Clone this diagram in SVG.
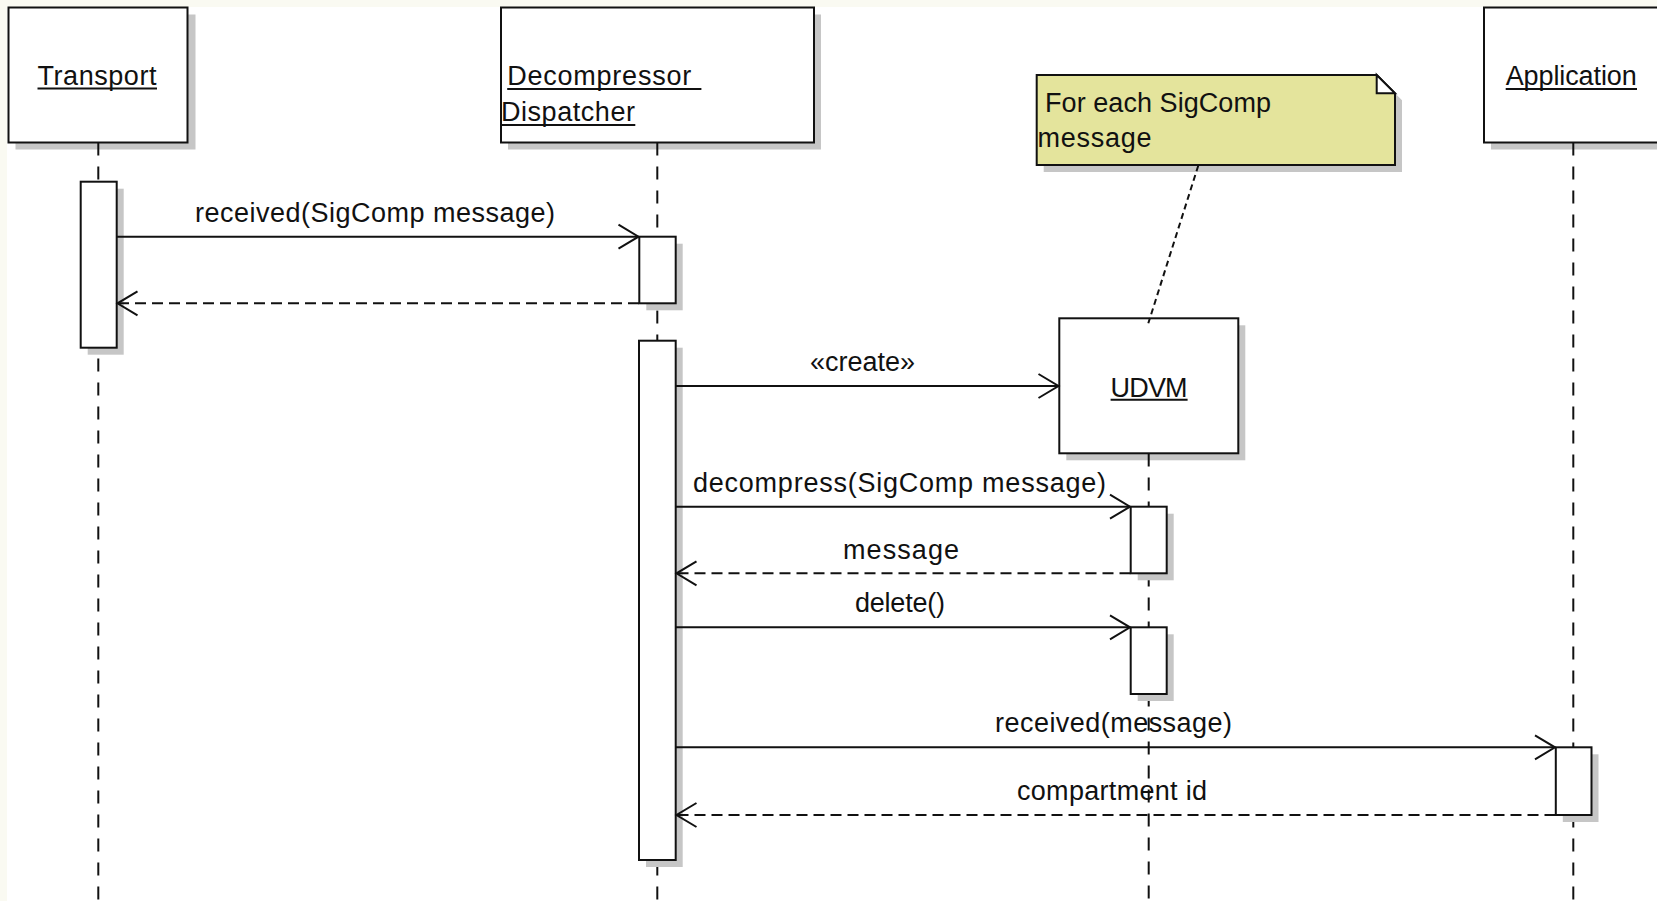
<svg xmlns="http://www.w3.org/2000/svg" width="1657" height="901" viewBox="0 0 1657 901">
  <style>
    text { font-family: "Liberation Sans", Arial, sans-serif; font-size: 27px; fill: #111; }
    .box { fill: #fff; stroke: #111; stroke-width: 2; }
    .shadow { fill: #c6c6c6; stroke: none; }
    .life { stroke: #111; stroke-width: 2; stroke-dasharray: 13 11; fill: none; }
    .ul { stroke: #111; stroke-width: 2; }
    .msg { stroke: #111; stroke-width: 2; fill: none; }
    .ret { stroke-dasharray: 11 6; }
    .link { stroke: #111; stroke-width: 2; stroke-dasharray: 6 4; fill: none; }
    .note { fill: #e4e49c; stroke: #111; stroke-width: 2; }
  </style>
  <defs>
    <marker id="open" viewBox="-23 -14 26 28" markerWidth="26" markerHeight="28" refX="0" refY="0" orient="auto" markerUnits="userSpaceOnUse">
      <path d="M-20,-12 L0,0 L-20,12" fill="none" stroke="#111" stroke-width="2" stroke-dasharray="none"/>
    </marker>
  </defs>

  <!-- canvas -->
  <rect x="0" y="0" width="1657" height="901" fill="#fafaf2"/>
  <rect x="7" y="7" width="1650" height="894" fill="#ffffff"/>

  <!-- lifeline: Transport -->
  <g id="transport">
    <rect class="shadow" x="15.5" y="14.5" width="180" height="135"/>
    <rect class="box" x="8.5" y="7.5" width="179" height="135"/>
    <text x="37.5" y="85" textLength="119">Transport</text>
    <line class="ul" x1="37.5" y1="88.5" x2="157" y2="88.5"/>
    <line class="life" x1="98.3" y1="142.5" x2="98.3" y2="901"/>
    <rect class="shadow" x="87.7" y="188.7" width="36" height="166"/>
    <rect class="box" x="80.7" y="181.7" width="36" height="166"/>
  </g>

  <!-- lifeline: Decompressor Dispatcher -->
  <g id="dispatcher">
    <rect class="shadow" x="508" y="14.5" width="313" height="135"/>
    <rect class="box" x="501" y="7.5" width="313" height="135"/>
    <text x="507.2" y="85" textLength="184">Decompressor</text>
    <line class="ul" x1="507.2" y1="89" x2="701.4" y2="89"/>
    <text x="501" y="120.5" textLength="134">Dispatcher</text>
    <line class="ul" x1="501" y1="125" x2="635.3" y2="125"/>
    <line class="life" x1="657.3" y1="142.5" x2="657.3" y2="901"/>
    <rect class="shadow" x="646.3" y="243.7" width="36.4" height="66.6"/>
    <rect class="box" x="639.3" y="236.7" width="36.4" height="66.6"/>
    <rect class="shadow" x="646" y="347.7" width="36.7" height="519.3"/>
    <rect class="box" x="639" y="340.7" width="36.7" height="519.3"/>
  </g>

  <!-- lifeline: UDVM (created during the interaction) -->
  <g id="udvm">
    <rect class="shadow" x="1066.3" y="325.3" width="179" height="135"/>
    <rect class="box" x="1059.3" y="318.3" width="179" height="135"/>
    <text x="1110.6" y="396.5" textLength="77">UDVM</text>
    <line class="ul" x1="1110.6" y1="399.8" x2="1187.6" y2="399.8"/>
    <line class="life" x1="1148.7" y1="453.5" x2="1148.7" y2="901"/>
    <rect class="shadow" x="1137.7" y="513.7" width="36" height="66.6"/>
    <rect class="box" x="1130.7" y="506.7" width="36" height="66.6"/>
    <rect class="shadow" x="1137.7" y="634.3" width="36" height="66.7"/>
    <rect class="box" x="1130.7" y="627.3" width="36" height="66.7"/>
  </g>

  <!-- lifeline: Application -->
  <g id="application">
    <rect class="shadow" x="1491" y="14.5" width="200" height="135"/>
    <rect class="box" x="1484" y="7.5" width="200" height="135"/>
    <text x="1505.7" y="85" textLength="131">Application</text>
    <line class="ul" x1="1505.7" y1="89" x2="1637" y2="89"/>
    <line class="life" x1="1573.3" y1="142.5" x2="1573.3" y2="901"/>
    <rect class="shadow" x="1562.8" y="754.3" width="35.7" height="67.7"/>
    <rect class="box" x="1555.8" y="747.3" width="35.7" height="67.7"/>
  </g>

  <!-- comment note -->
  <g id="note">
    <path class="shadow" d="M1043.7,82 H1383.7 L1402,100.3 V172 H1043.7 Z"/>
    <path class="note" d="M1036.7,75 H1376.7 L1395,93.3 V165 H1036.7 Z"/>
    <path d="M1376.7,75 V93.3 H1395 Z" fill="#fff" stroke="#111" stroke-width="2" stroke-linejoin="miter"/>
    <text x="1045" y="112" textLength="226">For each SigComp</text>
    <text x="1037.5" y="146.5" textLength="114">message</text>
  </g>

  <!-- messages -->
  <g id="connectors">
    <line class="msg" x1="116.7" y1="236.7" x2="638.5" y2="236.7" marker-end="url(#open)"/>
    <text x="195" y="221.5" textLength="360">received(SigComp message)</text>

    <line class="msg ret" x1="639" y1="303.3" x2="117.5" y2="303.3" marker-end="url(#open)"/>

    <line class="msg" x1="675.7" y1="386" x2="1058.5" y2="386" marker-end="url(#open)"/>
    <text x="810" y="371" textLength="105">«create»</text>

    <line class="msg" x1="675.7" y1="506.7" x2="1130" y2="506.7" marker-end="url(#open)"/>
    <text x="693" y="491.5" textLength="413">decompress(SigComp message)</text>

    <line class="msg ret" x1="1130.5" y1="573.3" x2="676.5" y2="573.3" marker-end="url(#open)"/>
    <text x="843" y="558.5" textLength="116">message</text>

    <line class="msg" x1="675.7" y1="627.3" x2="1130" y2="627.3" marker-end="url(#open)"/>
    <text x="855" y="611.5" textLength="90">delete()</text>

    <line class="msg" x1="675.7" y1="747.3" x2="1555" y2="747.3" marker-end="url(#open)"/>
    <text x="995" y="731.5" textLength="237">received(message)</text>

    <line class="msg ret" x1="1555.5" y1="815" x2="676.5" y2="815" marker-end="url(#open)"/>
    <text x="1017" y="799.5" textLength="190">compartment id</text>

    <line class="link" x1="1198.3" y1="165.5" x2="1148.3" y2="323.3"/>
  </g>
</svg>
